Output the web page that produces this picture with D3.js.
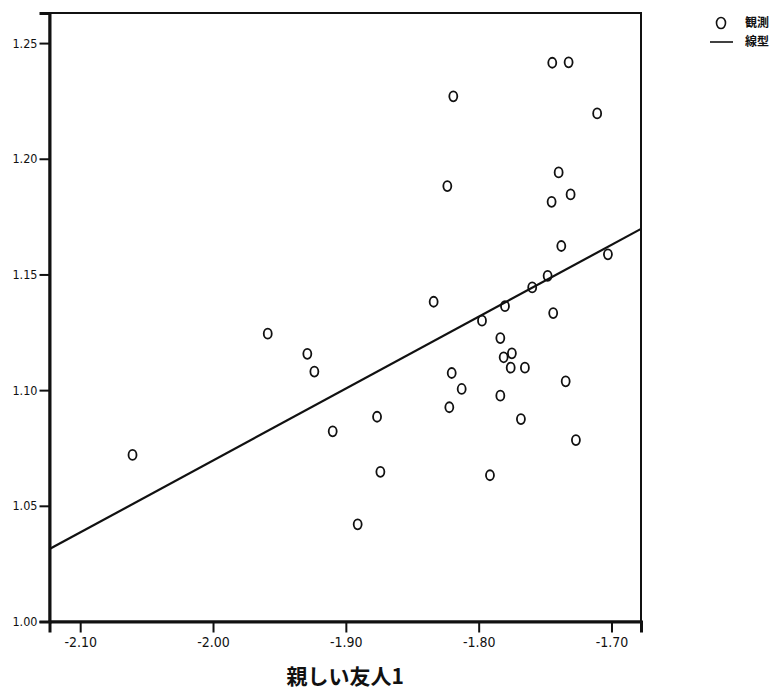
<!DOCTYPE html>
<html><head><meta charset="utf-8">
<script src="https://cdn.jsdelivr.net/npm/d3@7"></script>
<style>
html,body{margin:0;padding:0;background:#fff;}
svg{display:block;}
</style></head>
<body>
<script>
// ---- data ----
const obsX = [-1.7446,-1.7323,-1.8191,-1.7108,-1.7398,-1.8236,-1.7308,-1.7451,-1.7378,-1.7027,
  -1.7481,-1.7597,-1.8339,-1.7802,-1.7439,-1.7975,-1.7837,-1.7750,-1.7812,-1.7759,
  -1.7652,-1.8203,-1.7345,-1.8128,-1.7837,-1.8221,-1.7682,-1.7268,-1.7915,-1.9588,
  -1.9290,-1.9237,-1.8765,-1.9099,-2.0606,-1.8740,-1.8911];
const obsY = [1.2415,1.2417,1.2270,1.2196,1.1941,1.1882,1.1846,1.1814,1.1623,1.1587,
  1.1494,1.1444,1.1382,1.1363,1.1333,1.1300,1.1225,1.1159,1.1142,1.1097,
  1.1097,1.1074,1.1038,1.1005,1.0976,1.0926,1.0875,1.0784,1.0632,1.1244,
  1.1157,1.1080,1.0885,1.0822,1.0720,1.0647,1.0420];
const fitX = [-2.1231, -1.6778];
const fitY = [1.0313, 1.1697];
const xTicks = [-2.10, -2.00, -1.90, -1.80, -1.70];
const xTickLabels = ["-2.10", "-2.00", "-1.90", "-1.80", "-1.70"];
const yTicks = [1.00, 1.05, 1.10, 1.15, 1.20, 1.25];
const yTickLabels = ["1.00", "1.05", "1.10", "1.15", "1.20", "1.25"];
const xTitle = "親しい友人1";
const legendLabels = ["観測", "線型"];

// ---- layout ----
const W = 780, H = 691;
const L = 49.5, R = 641, T = 13, B = 621.5;
const svg = d3.select("body").append("svg").attr("width", W).attr("height", H);

const x = d3.scaleLinear().domain([-2.1231, -1.6778]).range([L, R]);
const y = d3.scaleLinear().domain([1.0, 1.263]).range([B, T]);

const tickFont = "'DejaVu Sans Condensed','DejaVu Sans',sans-serif";

// plot frame
svg.append("rect").attr("x", L).attr("y", T).attr("width", R - L).attr("height", B - T)
  .attr("fill", "#fff").attr("stroke", "#111").attr("stroke-width", 2);

// axes
const xAxis = d3.axisBottom(x).tickValues(xTicks)
  .tickFormat((d, i) => xTickLabels[i]).tickSize(11).tickPadding(5);
const gx = svg.append("g").attr("transform", `translate(0,${B})`).call(xAxis);
gx.select(".domain").attr("stroke", "#111").attr("stroke-width", 3);
gx.selectAll(".tick line").attr("stroke", "#111").attr("stroke-width", 2);
gx.selectAll(".tick text").attr("font-family", tickFont).attr("font-stretch", "condensed")
  .attr("font-size", 14).attr("fill", "#111");

const yAxis = d3.axisLeft(y).tickValues(yTicks)
  .tickFormat((d, i) => yTickLabels[i]).tickSize(10).tickPadding(2);
const gy = svg.append("g").attr("transform", `translate(${L},0)`).call(yAxis);
gy.select(".domain").attr("stroke", "#111").attr("stroke-width", 3);
gy.selectAll(".tick line").attr("stroke", "#111").attr("stroke-width", 2);
gy.selectAll(".tick text").attr("font-family", tickFont).attr("font-stretch", "condensed")
  .attr("font-size", 12.5).attr("fill", "#111");

// fit line
const line = d3.line().x(d => x(d[0])).y(d => y(d[1]));
svg.append("path").datum(d3.zip(fitX, fitY)).attr("d", line)
  .attr("fill", "none").attr("stroke", "#111").attr("stroke-width", 2.2);

// observations
svg.append("g").selectAll("ellipse").data(d3.zip(obsX, obsY)).join("ellipse")
  .attr("cx", d => x(d[0])).attr("cy", d => y(d[1]))
  .attr("rx", 4).attr("ry", 5)
  .attr("fill", "none").attr("stroke", "#111").attr("stroke-width", 1.8);

// x title
svg.append("text").attr("x", (L + R) / 2).attr("y", 684).attr("text-anchor", "middle")
  .attr("font-family", "'Noto Sans CJK JP',sans-serif").attr("font-weight", "bold")
  .attr("font-size", 21).attr("fill", "#111").text(xTitle);

// legend
const lg = svg.append("g");
lg.append("ellipse").attr("cx", 721).attr("cy", 23).attr("rx", 4.5).attr("ry", 5.5)
  .attr("fill", "none").attr("stroke", "#111").attr("stroke-width", 1.6);
lg.append("line").attr("x1", 710).attr("x2", 733).attr("y1", 42).attr("y2", 42)
  .attr("stroke", "#111").attr("stroke-width", 1.6);
lg.selectAll("text").data(legendLabels).join("text")
  .attr("x", 745).attr("y", (d, i) => 23 + i * 19).attr("dy", "0.36em")
  .attr("font-family", "'Noto Sans CJK JP',sans-serif").attr("font-weight", "bold")
  .attr("font-size", 12).attr("fill", "#111").text(d => d);
</script>
</body></html>
